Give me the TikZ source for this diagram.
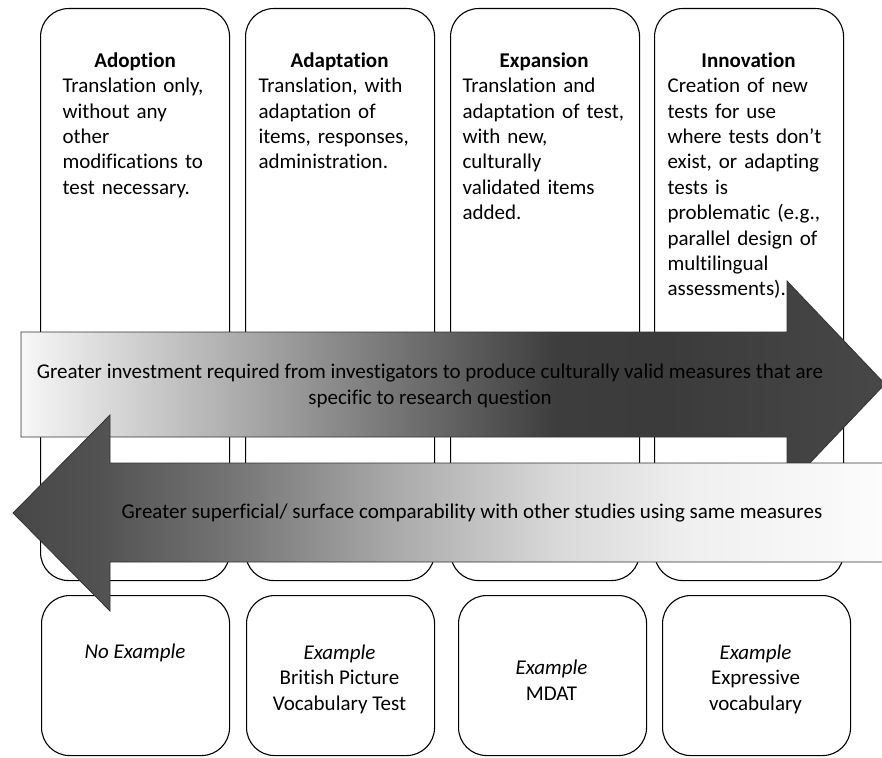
\documentclass[tikz,border=0pt]{standalone}
\usepackage{fontspec}
\setmainfont[Ligatures=NoCommon]{Carlito}

\pgfdeclarehorizontalshading{investshade}{100bp}{color(0bp)=(black!3); color(25bp)=(black!3); color(56bp)=(black!76); color(62bp)=(black!77); color(75bp)=(black!72); color(100bp)=(black!72)}
\pgfdeclarehorizontalshading{compareshade}{100bp}{color(0bp)=(black!72); color(25bp)=(black!72); color(30bp)=(black!68); color(38bp)=(black!53); color(47bp)=(black!33); color(56bp)=(black!15); color(64bp)=(black!6); color(75bp)=(black!1); color(100bp)=(black!1)}

\begin{document}
\begin{tikzpicture}[x=1pt,y=-1pt,line width=1.1pt]
    \tikzstyle{stage}=[rectangle,rounded corners=28pt,draw=black,fill=white,inner sep=0pt,anchor=north west]
    \tikzstyle{desc}=[inner sep=0pt,anchor=north west,align=left,text width=190pt,font=\fontsize{21}{25.4}\selectfont]
    \tikzstyle{example}=[inner sep=0pt,align=center,font=\fontsize{21}{25.4}\selectfont]
    \tikzstyle{band}=[draw=black!80,line width=0.8pt,shade]
    \useasboundingbox (0,0) rectangle (882,757);

    % the four stages and their examples
    \foreach \num/\x in {1/40, 2/245, 3/450, 4/654}
        \node[stage,minimum width=189pt,minimum height=572pt] (S-\num) at (\x,8) {};
    \foreach \num/\x in {1/41, 2/246, 3/458, 4/662}
        \node[stage,minimum width=188pt,minimum height=160pt] (E-\num) at (\x,595) {};

    \node[desc] (T-1) at (62,52) {\makebox[145pt]{\bfseries Adoption}\\Translation only,\\without any\\other\\modifications to\\test necessary.};
    \node[desc] (T-2) at (258,52) {\makebox[162pt]{\bfseries Adaptation}\\Translation, with\\adaptation of\\items, responses,\\administration.};
    \node[desc] (T-3) at (462,52) {\makebox[163pt]{\bfseries Expansion}\\Translation and\\adaptation of test,\\with new,\\culturally\\validated items\\added.};
    \node[desc] (T-4) at (667,52) {\makebox[162pt]{\bfseries Innovation}\\Creation of new\\tests for use\\where tests don’t\\exist, or adapting\\tests is\\problematic (e.g.,\\parallel design of\\multilingual\\assessments).};

    \node[example] (X-1) at (135,653) {\textit{No Example}};
    \node[example] (X-2) at (339.5,679) {\textit{Example}\\British Picture\\Vocabulary Test};
    \node[example] (X-3) at (551.5,680) {\textit{Example}\\MDAT};
    \node[example] (X-4) at (755.5,679) {\textit{Example}\\Expressive\\vocabulary};

    % the two block arrows
    \path[band,shading=investshade] (21,332) -- (787,332) -- (787,281) -- (885,384)
        -- (787,487) -- (787,437) -- (21,437) -- cycle;
    \node[example] (A-1) at (430,386) {Greater investment required from investigators to produce culturally valid measures that are\\specific to research question};

    \path[band,shading=compareshade] (890,463) -- (110,463) -- (110,415) -- (13,513)
        -- (110,611) -- (110,562) -- (890,562) -- cycle;
    \node[example] (A-2) at (472,513) {Greater superficial/ surface comparability with other studies using same measures};
\end{tikzpicture}
\end{document}
